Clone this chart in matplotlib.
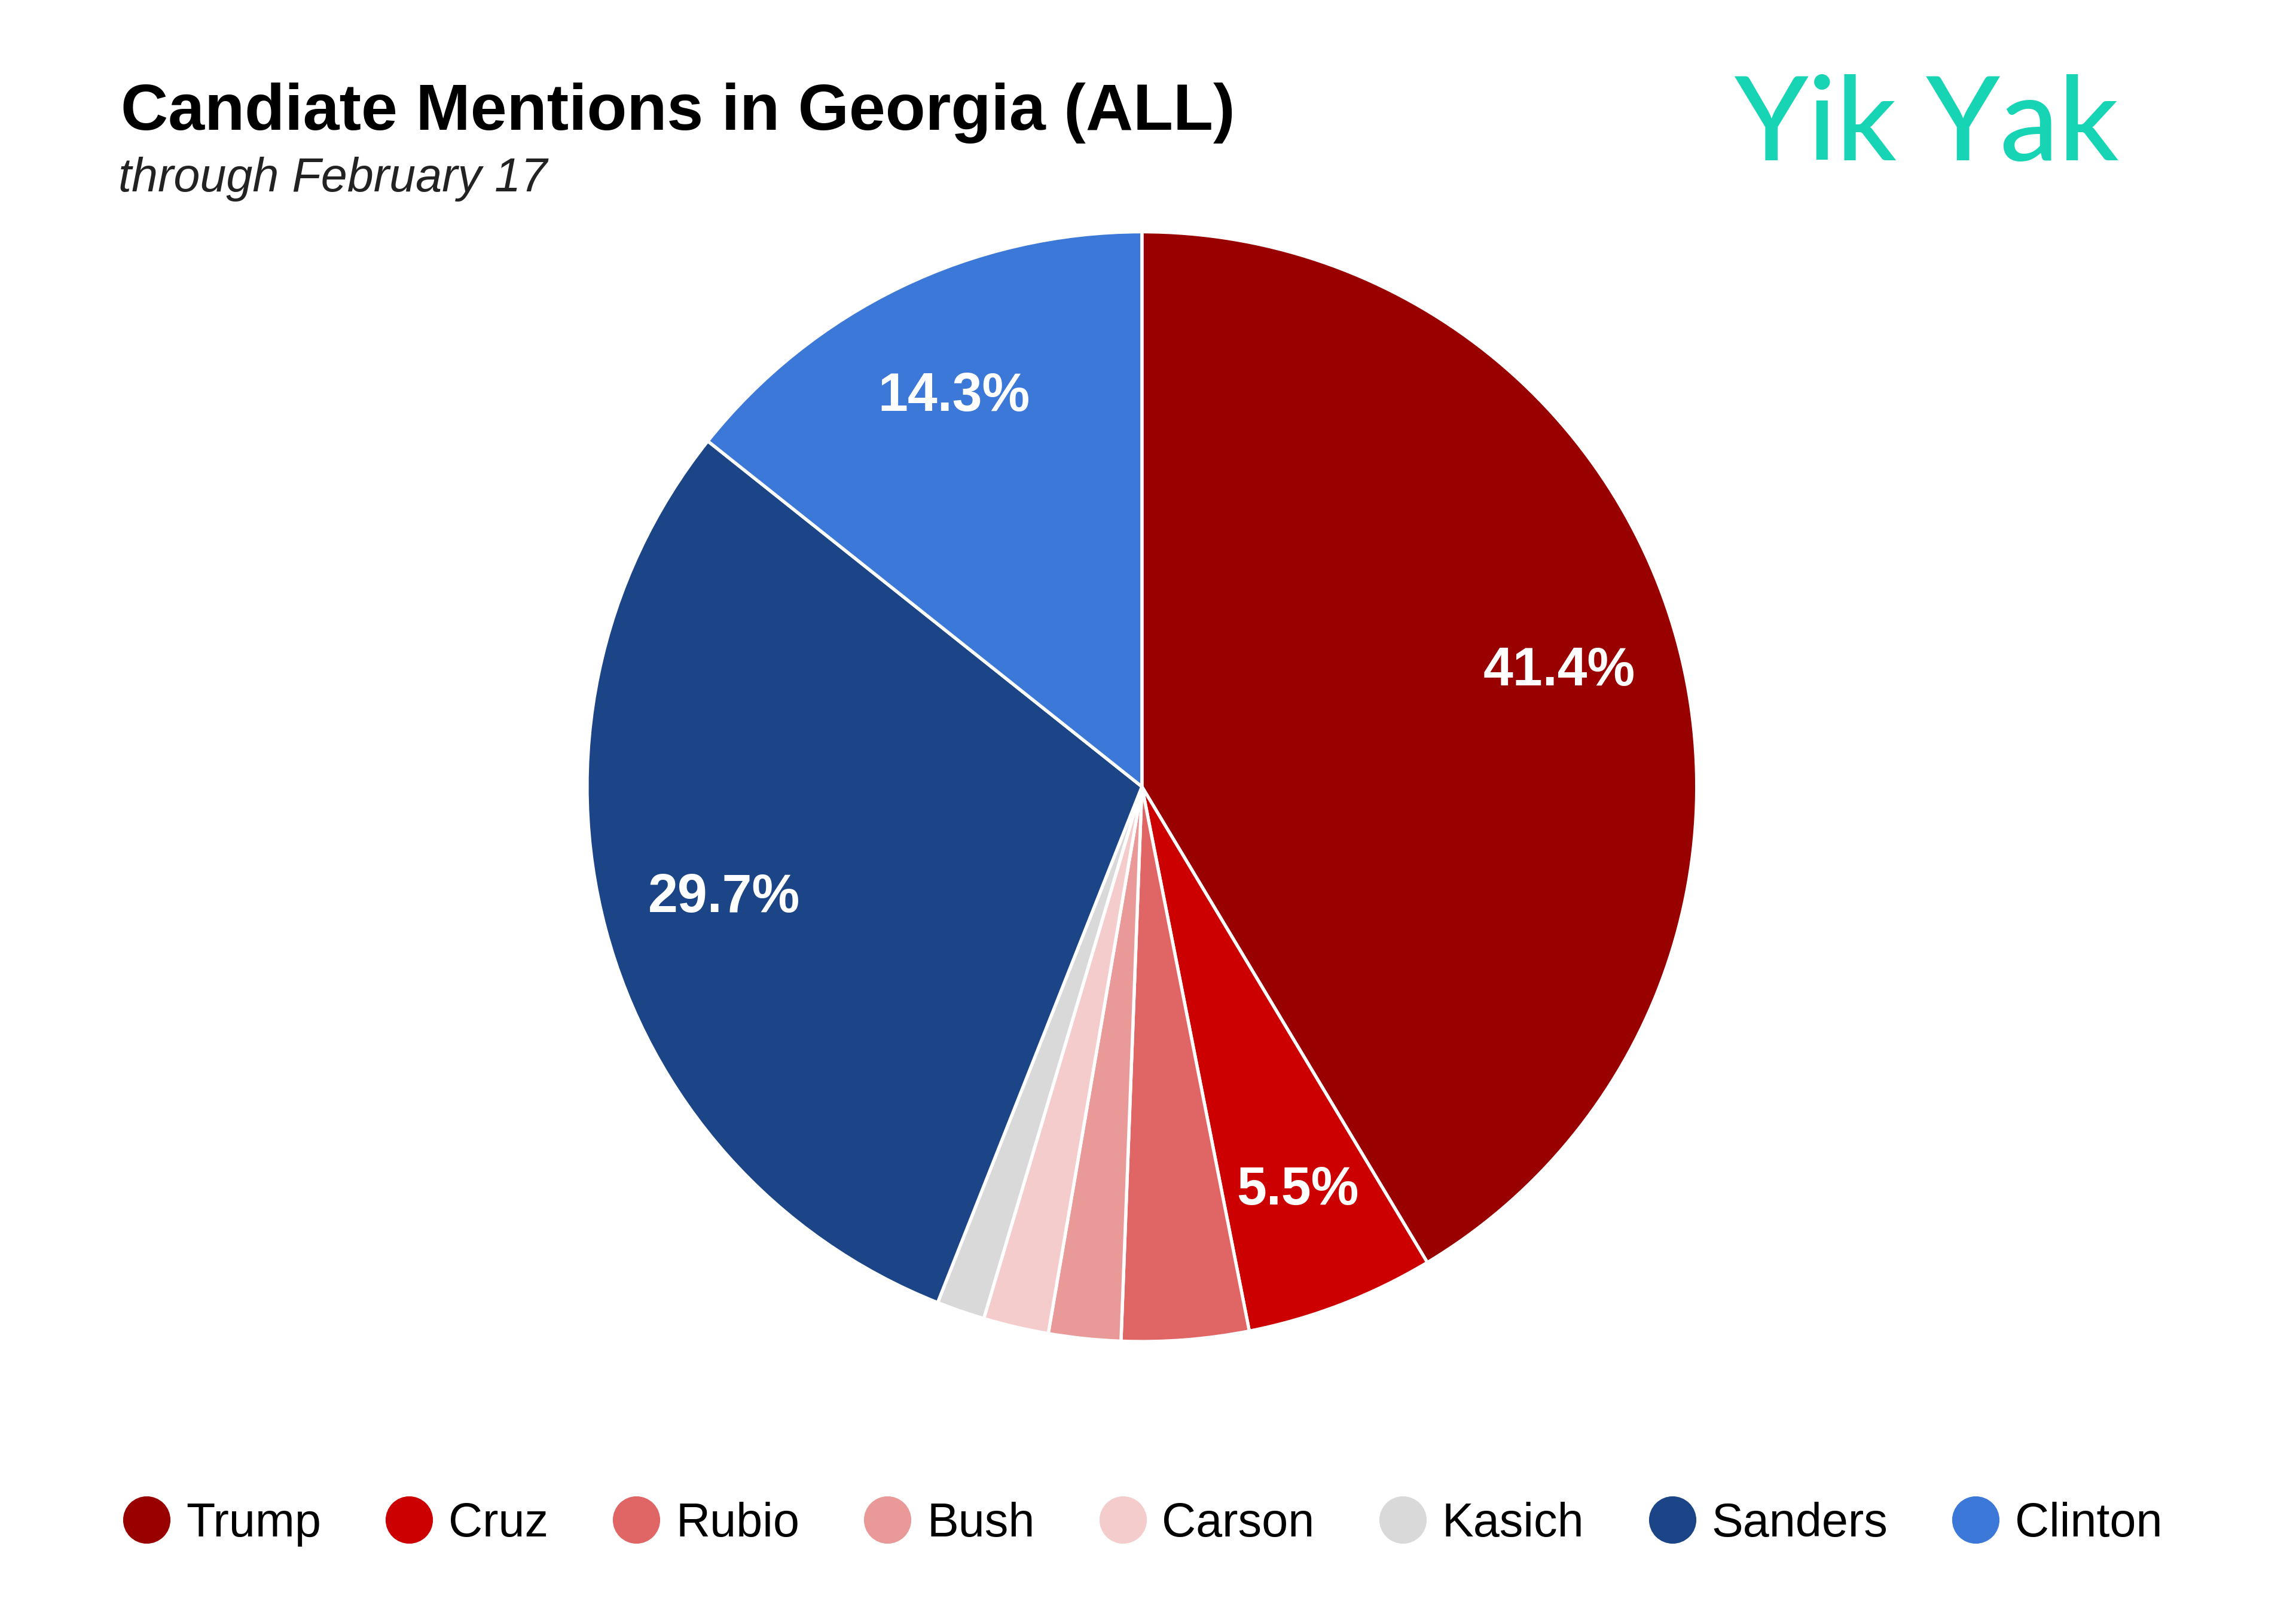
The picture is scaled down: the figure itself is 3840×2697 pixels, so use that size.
import matplotlib.pyplot as plt
from matplotlib.lines import Line2D

candidates = ['Trump', 'Cruz', 'Rubio', 'Bush', 'Carson', 'Kasich', 'Sanders', 'Clinton']
shares = [41.4, 5.5, 3.7, 2.1, 1.9, 1.4, 29.7, 14.3]
colors = ['#990000', '#cc0000', '#e06666', '#ea9999', '#f4cccc', '#d9d9d9', '#1c4587', '#3c78d8']

plt.rcParams['font.family'] = ['Liberation Sans', 'DejaVu Sans']

fig = plt.figure(figsize=(12.8, 8.99), dpi=300)
ax = fig.add_axes([0.2557, 0.1683, 0.4833, 0.688])

wedges, texts, autotexts = ax.pie(
    shares, colors=colors, startangle=90, counterclock=False, radius=1,
    autopct=lambda p: f'{p:.1f}%' if p >= 5 else '', pctdistance=0.78,
    wedgeprops=dict(edgecolor='white', linewidth=1.3),
    textprops=dict(color='white', fontsize=21.5, fontweight='bold'))
ax.set_xlim(-1, 1)
ax.set_ylim(-1, 1)
ax.set_aspect('auto')
ax.axis('off')

# title block
fig.text(0.0525, 1 - 217 / 2697, 'Candiate Mentions in Georgia (ALL)',
         fontsize=26.3, fontweight='bold', ha='left', va='baseline')
fig.text(0.0515, 1 - 320 / 2697, 'through February 17',
         fontsize=19, style='italic', ha='left', va='baseline', color='#222222')

# logo
fig.text(3222 / 3840, 1 - 212 / 2697, 'Yik Yak', fontsize=47, fontweight='medium',
         family=['Lato', 'Liberation Sans'],
         color='#16d4b4', ha='center', va='center')

# legend
handles = [Line2D([], [], marker='o', linestyle='none', markersize=18,
                  markerfacecolor=c, markeredgecolor=c) for c in colors]
fig.legend(handles, candidates, loc='center', bbox_to_anchor=(0.4977, 0.055),
           ncol=8, frameon=False, fontsize=19, handlelength=1.0,
           handletextpad=0.33, columnspacing=1.36)

fig.savefig('out.png', dpi=300, facecolor='white')
